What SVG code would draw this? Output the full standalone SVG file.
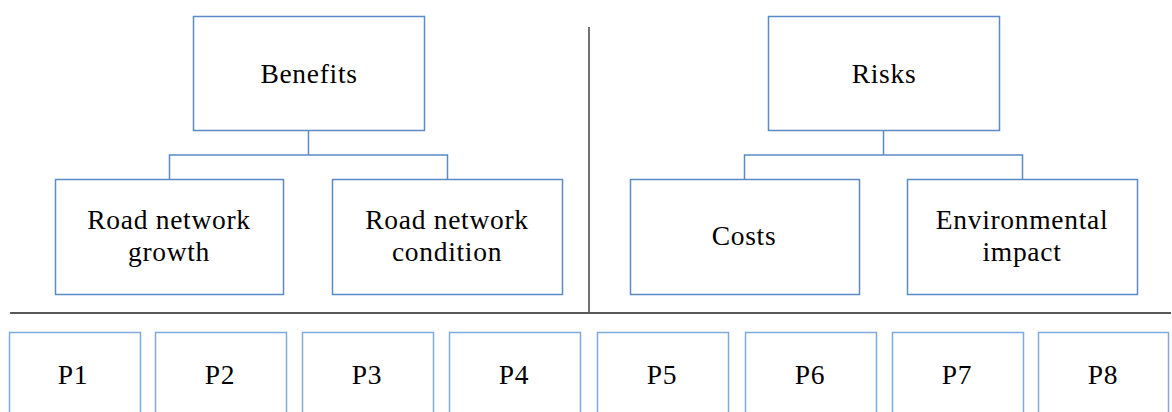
<svg xmlns="http://www.w3.org/2000/svg" width="1172" height="412" viewBox="0 0 1172 412">
<style>
.box{fill:#fff;stroke:#5b8bc6;stroke-width:1.5}
.pbox{fill:#fff;stroke:#80aade;stroke-width:1.5}
.conn{fill:none;stroke:#5b8bc6;stroke-width:1.5}
.t{font-family:'Liberation Serif','DejaVu Serif',serif;font-size:27.5px;letter-spacing:0.7px;fill:#000;text-anchor:middle}
</style>
<rect width="1172" height="412" fill="#fff"/>
<g id="connectors">
<path class="conn" d="M308.5,131 V155 M169.5,179 V155 H447.5 V179"/>
<path class="conn" d="M883.5,131 V155 M744.5,179 V155 H1022.5 V179"/>
</g>
<g id="separators">
<line x1="10" y1="313" x2="1171" y2="313" stroke="#222" stroke-width="1.5"/>
<line x1="589" y1="27" x2="589" y2="312" stroke="#444" stroke-width="1.5"/>
</g>
<g id="benefits"><rect class="box" x="193.5" y="16.5" width="231" height="114"/><text class="t" x="309" y="83">Benefits</text></g>
<g id="risks"><rect class="box" x="768.5" y="16.5" width="231" height="114"/><text class="t" x="884" y="83">Risks</text></g>
<g id="growth"><rect class="box" x="55.5" y="179.5" width="228" height="115"/><text class="t" x="169" y="229">Road network</text><text class="t" x="169" y="261">growth</text></g>
<g id="condition"><rect class="box" x="332.5" y="179.5" width="230" height="115"/><text class="t" x="447" y="229">Road network</text><text class="t" x="447" y="261">condition</text></g>
<g id="costs"><rect class="box" x="630.5" y="179.5" width="229" height="115"/><text class="t" x="744" y="245">Costs</text></g>
<g id="env"><rect class="box" x="907.5" y="179.5" width="230" height="115"/><text class="t" x="1022" y="229">Environmental</text><text class="t" x="1022" y="261">impact</text></g>
<g id="p1"><rect class="pbox" x="9.5" y="332.5" width="131" height="100"/><text class="t" x="73" y="384">P1</text></g>
<g id="p2"><rect class="pbox" x="155.5" y="332.5" width="131" height="100"/><text class="t" x="220" y="384">P2</text></g>
<g id="p3"><rect class="pbox" x="302.5" y="332.5" width="131" height="100"/><text class="t" x="367" y="384">P3</text></g>
<g id="p4"><rect class="pbox" x="449.5" y="332.5" width="131" height="100"/><text class="t" x="514" y="384">P4</text></g>
<g id="p5"><rect class="pbox" x="597.5" y="332.5" width="131" height="100"/><text class="t" x="662" y="384">P5</text></g>
<g id="p6"><rect class="pbox" x="745.5" y="332.5" width="131" height="100"/><text class="t" x="810" y="384">P6</text></g>
<g id="p7"><rect class="pbox" x="892.5" y="332.5" width="131" height="100"/><text class="t" x="957" y="384">P7</text></g>
<g id="p8"><rect class="pbox" x="1038.5" y="332.5" width="130" height="100"/><text class="t" x="1103" y="384">P8</text></g>
</svg>
